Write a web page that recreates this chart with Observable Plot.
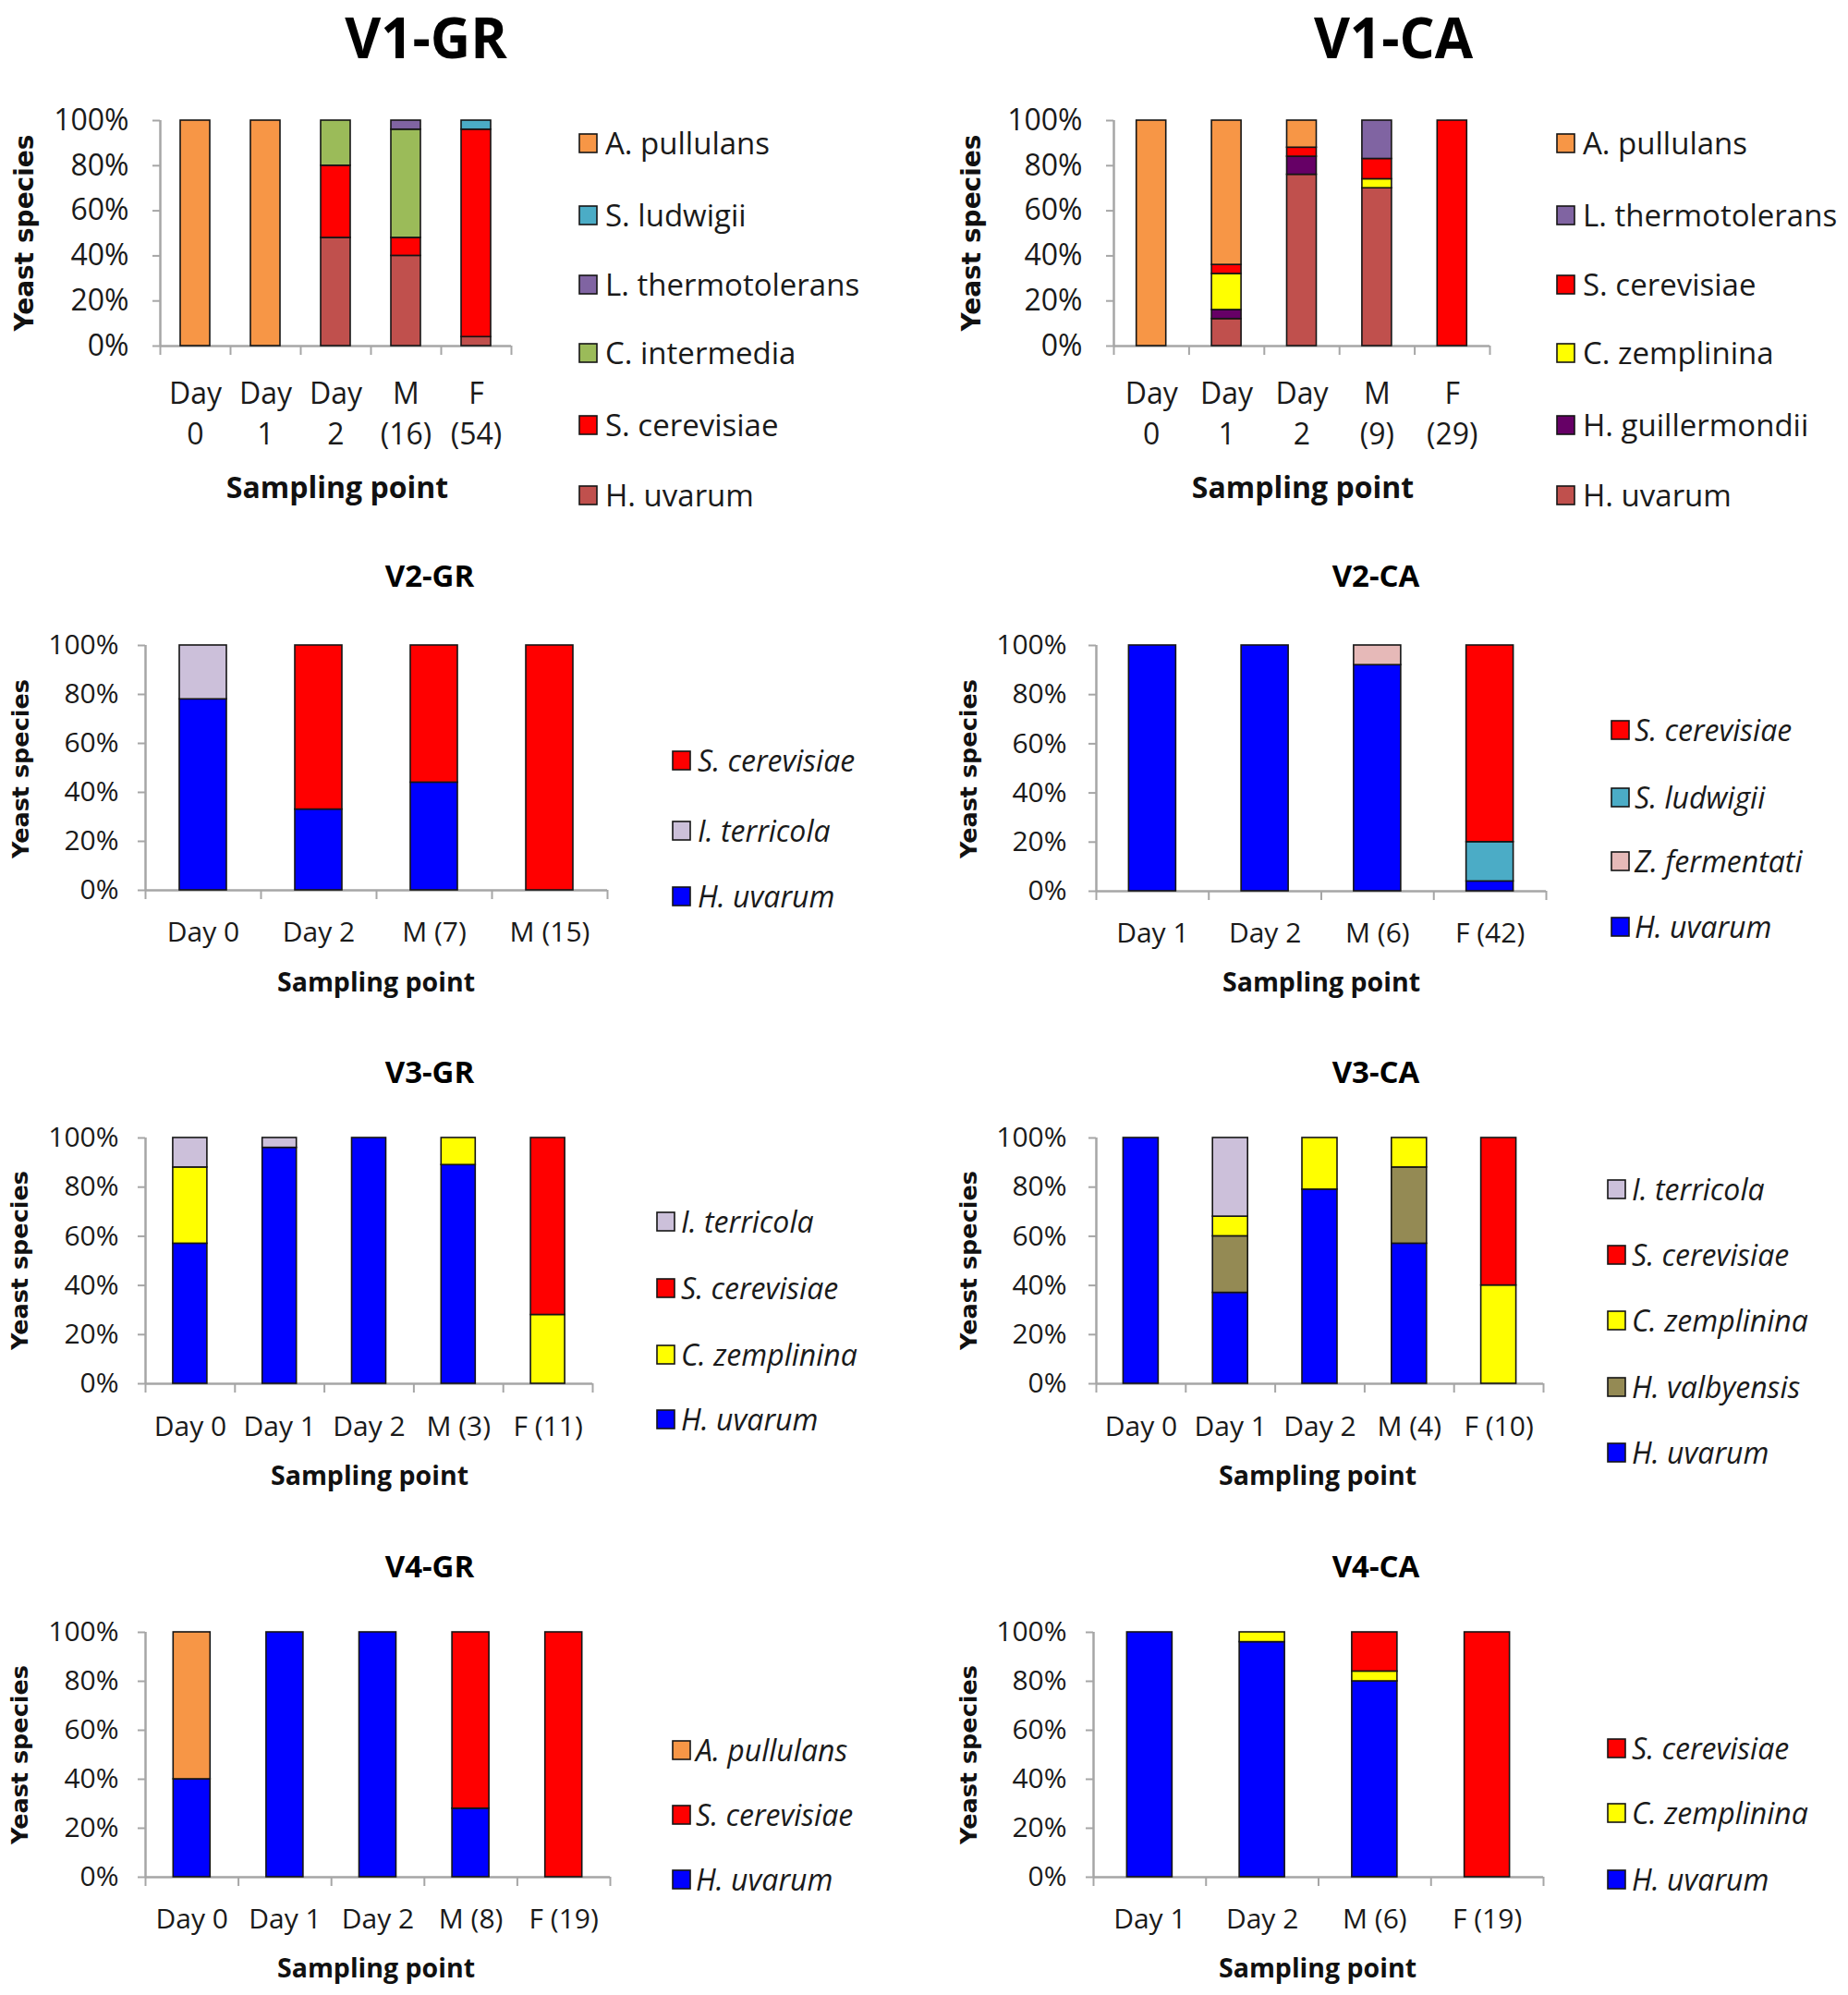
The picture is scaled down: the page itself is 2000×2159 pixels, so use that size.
<!DOCTYPE html>
<html><head><meta charset="utf-8">
<script src="https://cdn.jsdelivr.net/npm/d3@7"></script>
<script src="https://cdn.jsdelivr.net/npm/@observablehq/plot@0.6"></script>
<style>
body{margin:0;background:#fff;}
#root{position:relative;width:2000px;height:2159px;background:#fff;overflow:hidden;}
#root svg.panel{position:absolute;}
#overlay{position:absolute;left:0;top:0;pointer-events:none;}
</style></head><body><div id="root"></div>
<script>
// ---------------- DATA ----------------
// rows = species (stack order bottom -> top), columns = sampling points (% of isolates)
const v1grCats = ["Day\n0","Day\n1","Day\n2","M\n(16)","F\n(54)"];
const v1grSpecies = ["H. uvarum","S. cerevisiae","C. intermedia","L. thermotolerans","S. ludwigii","A. pullulans"];
const v1grColors = ["#C0504D","#FF0000","#9BBB59","#8064A2","#4BACC6","#F79646"];
const v1grValues = [
  [0,0,48,40,4],
  [0,0,32,8,92],
  [0,0,20,48,0],
  [0,0,0,4,0],
  [0,0,0,0,4],
  [100,100,0,0,0]];

const v1caCats = ["Day\n0","Day\n1","Day\n2","M\n(9)","F\n(29)"];
const v1caSpecies = ["H. uvarum","H. guillermondii","C. zemplinina","S. cerevisiae","L. thermotolerans","A. pullulans"];
const v1caColors = ["#C0504D","#660066","#FFFF00","#FF0000","#8064A2","#F79646"];
const v1caValues = [
  [0,12,76,70,0],
  [0,4,8,0,0],
  [0,16,0,4,0],
  [0,4,4,9,100],
  [0,0,0,17,0],
  [100,64,12,0,0]];

const v2grCats = ["Day 0","Day 2","M (7)","M (15)"];
const v2grSpecies = ["H. uvarum","I. terricola","S. cerevisiae"];
const v2grColors = ["#0000FF","#CCC0DA","#FF0000"];
const v2grValues = [
  [78,33,44,0],
  [22,0,0,0],
  [0,67,56,100]];

const v2caCats = ["Day 1","Day 2","M (6)","F (42)"];
const v2caSpecies = ["H. uvarum","Z. fermentati","S. ludwigii","S. cerevisiae"];
const v2caColors = ["#0000FF","#E6B9B8","#4BACC6","#FF0000"];
const v2caValues = [
  [100,100,92,4],
  [0,0,8,0],
  [0,0,0,16],
  [0,0,0,80]];

const v3grCats = ["Day 0","Day 1","Day 2","M (3)","F (11)"];
const v3grSpecies = ["H. uvarum","C. zemplinina","S. cerevisiae","I. terricola"];
const v3grColors = ["#0000FF","#FFFF00","#FF0000","#CCC0DA"];
const v3grValues = [
  [57,96,100,89,0],
  [31,0,0,11,28],
  [0,0,0,0,72],
  [12,4,0,0,0]];

const v3caCats = ["Day 0","Day 1","Day 2","M (4)","F (10)"];
const v3caSpecies = ["H. uvarum","H. valbyensis","C. zemplinina","S. cerevisiae","I. terricola"];
const v3caColors = ["#0000FF","#948A54","#FFFF00","#FF0000","#CCC0DA"];
const v3caValues = [
  [100,37,79,57,0],
  [0,23,0,31,0],
  [0,8,21,12,40],
  [0,0,0,0,60],
  [0,32,0,0,0]];

const v4grCats = ["Day 0","Day 1","Day 2","M (8)","F (19)"];
const v4grSpecies = ["H. uvarum","S. cerevisiae","A. pullulans"];
const v4grColors = ["#0000FF","#FF0000","#F79646"];
const v4grValues = [
  [40,100,100,28,0],
  [0,0,0,72,100],
  [60,0,0,0,0]];

const v4caCats = ["Day 1","Day 2","M (6)","F (19)"];
const v4caSpecies = ["H. uvarum","C. zemplinina","S. cerevisiae"];
const v4caColors = ["#0000FF","#FFFF00","#FF0000"];
const v4caValues = [
  [100,96,80,0],
  [0,4,4,0],
  [0,0,16,100]];

const yTicks = [0, 0.2, 0.4, 0.6, 0.8, 1];
const yTitleText = "Yeast species";
const xTitleText = "Sampling point";

// ---------------- LAYOUT ----------------
const panels = [
  {title:"V1-GR", cats:v1grCats, species:v1grSpecies, colors:v1grColors, values:v1grValues,
   col:0, top:0, h:560, FL:173, FR:553, FT:130, FB:374, bar:32, tick:32, tickPad:26, catDy:31, lineH:1.38,
   t:[461,63,60], yt:[26,252,28], xt:[365,539,32], lg:{x:627, tx:655, rows:[156,234,309,383,461,537], size:33, italic:false}},
  {title:"V1-CA", cats:v1caCats, species:v1caSpecies, colors:v1caColors, values:v1caValues,
   col:1000, top:0, h:560, FL:1205, FR:1612, FT:130, FB:374, bar:32, tick:32, tickPad:26, catDy:31, lineH:1.38,
   t:[1508,63,60], yt:[1051,252,28], xt:[1410,539,32], lg:{x:1685, tx:1713, rows:[156,234,309,383,461,537], size:33, italic:false}},
  {title:"V2-GR", cats:v2grCats, species:v2grSpecies, colors:v2grColors, values:v2grValues,
   col:0, top:560, h:540, FL:157, FR:657, FT:698, FB:963, bar:51, tick:30, tickPad:21, catDy:30, lineH:1.2,
   t:[465,635,33], yt:[22,832,25.5], xt:[407,1073,28.5], lg:{x:728, tx:755, rows:[824,900,971], size:32, italic:true}},
  {title:"V2-CA", cats:v2caCats, species:v2caSpecies, colors:v2caColors, values:v2caValues,
   col:1000, top:560, h:540, FL:1186, FR:1673, FT:698, FB:964, bar:51, tick:30, tickPad:24, catDy:30, lineH:1.2,
   t:[1489,635,33], yt:[1048,832,25.5], xt:[1430,1073,28.5], lg:{x:1744, tx:1769, rows:[791,864,933,1004], size:32, italic:true}},
  {title:"V3-GR", cats:v3grCats, species:v3grSpecies, colors:v3grColors, values:v3grValues,
   col:0, top:1100, h:530, FL:157, FR:641, FT:1231, FB:1497, bar:37, tick:30, tickPad:21, catDy:31, lineH:1.2,
   t:[465,1172,33], yt:[21,1364,25.5], xt:[400,1607,28.5], lg:{x:711, tx:737, rows:[1323,1395,1467,1537], size:32, italic:true}},
  {title:"V3-CA", cats:v3caCats, species:v3caSpecies, colors:v3caColors, values:v3caValues,
   col:1000, top:1100, h:530, FL:1186, FR:1670, FT:1231, FB:1497, bar:38, tick:30, tickPad:24, catDy:31, lineH:1.2,
   t:[1489,1172,33], yt:[1048,1364,25.5], xt:[1426,1607,28.5], lg:{x:1740, tx:1766, rows:[1288,1359,1430,1502,1573], size:32, italic:true}},
  {title:"V4-GR", cats:v4grCats, species:v4grSpecies, colors:v4grColors, values:v4grValues,
   col:0, top:1630, h:529, FL:157, FR:660, FT:1766, FB:2031, bar:40, tick:30, tickPad:21, catDy:30, lineH:1.2,
   t:[465,1707,33], yt:[21,1899,25.5], xt:[407,2140,28.5], lg:{x:728, tx:753, rows:[1895,1965,2035], size:32, italic:true}},
  {title:"V4-CA", cats:v4caCats, species:v4caSpecies, colors:v4caColors, values:v4caValues,
   col:1000, top:1630, h:529, FL:1183, FR:1670, FT:1766, FB:2031, bar:49, tick:30, tickPad:21, catDy:30, lineH:1.2,
   t:[1489,1707,33], yt:[1048,1899,25.5], xt:[1426,2140,28.5], lg:{x:1740, tx:1766, rows:[1893,1963,2035], size:32, italic:true}}
];

const AXIS = "#A6A6A6";
const TXT = "#1a1a1a";
const FONT = "'Open Sans', sans-serif";
const root = document.getElementById("root");

for (const p of panels) {
  const n = p.cats.length;
  const step = (p.FR - p.FL) / n;
  const f = p.bar / step;
  const segs = [];
  p.cats.forEach((c, i) => {
    let cum = 0;
    p.species.forEach((s, j) => {
      const v = p.values[j][i];
      if (v > 0) { segs.push({i, species: s, y1: cum / 100, y2: (cum + v) / 100}); cum += v; }
    });
  });
  const svg = Plot.plot({
    width: 1000, height: p.h,
    marginLeft: p.FL - p.col, marginRight: p.col + 1000 - p.FR,
    marginTop: p.FT - p.top, marginBottom: p.top + p.h - p.FB,
    x: {domain: [0, n], axis: null},
    y: {domain: [0, 1], axis: null},
    color: {domain: p.species, range: p.colors},
    style: {fontFamily: FONT, color: TXT, overflow: "visible", background: "transparent"},
    marks: [
      Plot.axisY({ticks: yTicks, tickFormat: d3.format(".0%"), tickSize: 8, tickPadding: p.tickPad,
                  fontSize: p.tick, stroke: AXIS, strokeWidth: 2, fill: TXT, label: null}),
      Plot.axisX({ticks: d3.range(n + 1), tickSize: 10, tickFormat: () => "", stroke: AXIS, strokeWidth: 2, label: null}),
      Plot.ruleY([0], {stroke: AXIS, strokeWidth: 2.5}),
      Plot.ruleX([0], {stroke: AXIS, strokeWidth: 2.5}),
      Plot.rect(segs, {x1: d => d.i + 0.5 - f / 2, x2: d => d.i + 0.5 + f / 2, y1: "y1", y2: "y2",
                       fill: "species", stroke: "#151515", strokeWidth: 1.6}),
      Plot.text(p.cats, {x: (d, i) => i + 0.5, frameAnchor: "bottom", dy: p.catDy, lineAnchor: "top",
                         text: d => d, fontSize: p.tick, lineHeight: p.lineH, fill: TXT})
    ]
  });
  svg.classList.add("panel");
  svg.style.left = p.col + "px";
  svg.style.top = p.top + "px";
  root.appendChild(svg);
}

// overlay: titles, axis titles, legends
const ov = d3.select(root).append("svg").attr("id", "overlay")
  .attr("width", 2000).attr("height", 2159);
for (const p of panels) {
  ov.append("text").attr("x", p.t[0]).attr("y", p.t[1]).attr("text-anchor", "middle")
    .attr("font-family", FONT).attr("font-weight", "bold").attr("font-size", p.t[2]).attr("fill", "#000")
    .text(p.title);
  ov.append("text").attr("transform", `translate(${p.yt[0]},${p.yt[1]}) rotate(-90)`)
    .attr("text-anchor", "middle").attr("dominant-baseline", "central")
    .attr("font-family", "'DejaVu Sans', sans-serif").attr("font-weight", "bold").attr("font-size", p.yt[2])
    .attr("fill", "#111").text(yTitleText);
  ov.append("text").attr("x", p.xt[0]).attr("y", p.xt[1]).attr("text-anchor", "middle")
    .attr("font-family", FONT).attr("font-weight", "bold").attr("font-size", p.xt[2]).attr("fill", "#111")
    .text(xTitleText);
  const order = p.species.map((s, j) => j).reverse();
  order.forEach((j, k) => {
    const cy = p.lg.rows[k];
    ov.append("rect").attr("x", p.lg.x).attr("y", cy - 11).attr("width", 19).attr("height", 20)
      .attr("fill", p.colors[j]).attr("stroke", "#151515").attr("stroke-width", 1.6);
    ov.append("text").attr("x", p.lg.tx).attr("y", cy + p.lg.size * 0.33)
      .attr("font-family", FONT).attr("font-size", p.lg.size).attr("fill", TXT)
      .attr("font-style", p.lg.italic ? "italic" : "normal").text(p.species[j]);
  });
}
</script></body></html>
